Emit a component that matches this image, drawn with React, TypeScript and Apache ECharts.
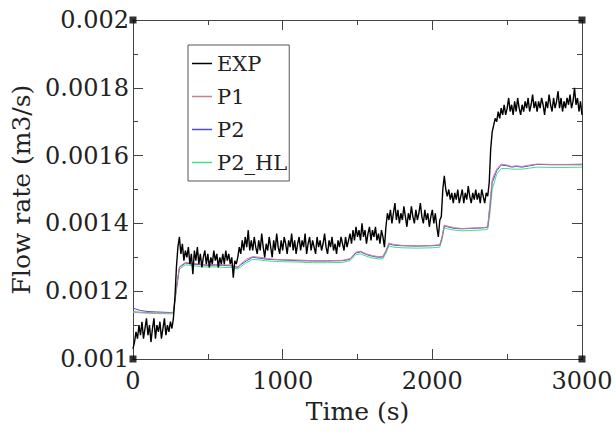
import React, { useEffect, useRef } from "react";
import * as echarts from "echarts";

// Experimental flow rate, sampled every 10 s from 0 to 3000 s
const expStep = 10;
const expValues = [
  0.00103, 0.00105, 0.00108, 0.00106, 0.00110, 0.00107, 0.00111, 0.00106, 0.00109, 0.00112,
  0.00107, 0.00110, 0.00105, 0.00109, 0.00112, 0.00106, 0.00110, 0.00108, 0.00111, 0.00106,
  0.00109, 0.00112, 0.00107, 0.00110, 0.00108, 0.00111, 0.00109, 0.00112, 0.00118, 0.00127,
  0.00133, 0.00136, 0.00131, 0.00134, 0.00129, 0.00132, 0.00130, 0.00133, 0.00128, 0.00131,
  0.00125, 0.00132, 0.00129, 0.00133, 0.00128, 0.00131, 0.00127, 0.00130, 0.00132, 0.00128,
  0.00131, 0.00127, 0.00130, 0.00128, 0.00132, 0.00129, 0.00131, 0.00127, 0.00130, 0.00128,
  0.00131, 0.00128, 0.00132, 0.00129, 0.00131, 0.00128, 0.00130, 0.00124, 0.00129, 0.00128,
  0.00130, 0.00133, 0.00131, 0.00135, 0.00132, 0.00136, 0.00133, 0.00138, 0.00132, 0.00135,
  0.00132, 0.00136, 0.00133, 0.00131, 0.00135, 0.00132, 0.00137, 0.00133, 0.00130, 0.00134,
  0.00132, 0.00136, 0.00133, 0.00130, 0.00135, 0.00132, 0.00137, 0.00133, 0.00131, 0.00135,
  0.00132, 0.00136, 0.00134, 0.00131, 0.00135, 0.00133, 0.00137, 0.00132, 0.00135, 0.00131,
  0.00134, 0.00136, 0.00132, 0.00135, 0.00133, 0.00137, 0.00131, 0.00134, 0.00136, 0.00132,
  0.00135, 0.00133, 0.00131, 0.00136, 0.00133, 0.00135, 0.00132, 0.00134, 0.00137, 0.00133,
  0.00131, 0.00135, 0.00133, 0.00136, 0.00132, 0.00134, 0.00131, 0.00135, 0.00133, 0.00136,
  0.00134, 0.00132, 0.00136, 0.00133, 0.00135, 0.00137, 0.00134, 0.00138, 0.00135, 0.00139,
  0.00136, 0.00138, 0.00135, 0.00140, 0.00136, 0.00138, 0.00134, 0.00137, 0.00139, 0.00135,
  0.00138, 0.00136, 0.00139, 0.00135, 0.00137, 0.00134, 0.00138, 0.00136, 0.00133, 0.00139,
  0.00143, 0.00141, 0.00144, 0.00140, 0.00143, 0.00146, 0.00141, 0.00144, 0.00140, 0.00143,
  0.00141, 0.00145, 0.00142, 0.00139, 0.00143, 0.00141, 0.00145, 0.00142, 0.00140, 0.00144,
  0.00141, 0.00143, 0.00146, 0.00142, 0.00140, 0.00144, 0.00141, 0.00143, 0.00139, 0.00142,
  0.00144, 0.00140, 0.00143, 0.00139, 0.00136, 0.00141, 0.00142, 0.00150, 0.00154, 0.00150,
  0.00148, 0.00150, 0.00147, 0.00149, 0.00146, 0.00149, 0.00147, 0.00150, 0.00146, 0.00148,
  0.00150, 0.00146, 0.00149, 0.00147, 0.00151, 0.00148, 0.00146, 0.00149, 0.00147, 0.00150,
  0.00147, 0.00149, 0.00146, 0.00150, 0.00148, 0.00146, 0.00149, 0.00148, 0.00152, 0.00162,
  0.00167, 0.00169, 0.00171, 0.00170, 0.00173, 0.00171, 0.00174, 0.00172, 0.00175, 0.00172,
  0.00174, 0.00177, 0.00173, 0.00175, 0.00172, 0.00176, 0.00173, 0.00177, 0.00174, 0.00172,
  0.00175, 0.00173, 0.00176, 0.00174, 0.00177, 0.00173, 0.00175, 0.00178, 0.00174, 0.00176,
  0.00173, 0.00176, 0.00174, 0.00177, 0.00175, 0.00172, 0.00176, 0.00174, 0.00178, 0.00175,
  0.00173, 0.00177, 0.00174, 0.00176, 0.00179, 0.00174, 0.00177, 0.00173, 0.00176, 0.00174,
  0.00177, 0.00175, 0.00178, 0.00174, 0.00176, 0.00180, 0.00175, 0.00177, 0.00173, 0.00176,
  0.00172,
];

// Model time points (s)
const modelTimes = [
  0, 50, 100, 150, 200, 250, 270, 290, 310, 350, 400, 450, 500, 550, 600, 650, 700, 720, 760,
  800, 850, 900, 950, 1000, 1100, 1200, 1300, 1400, 1450, 1490, 1520, 1560, 1600, 1640, 1670,
  1690, 1710, 1740, 1800, 1900, 2000, 2050, 2065, 2080, 2100, 2150, 2200, 2250, 2300, 2350,
  2370, 2385, 2400, 2430, 2460, 2500, 2530, 2560, 2600, 2650, 2700, 2800, 2900, 3000,
];

const p1Values = [
  0.001140, 0.001138, 0.001137, 0.001136, 0.001136, 0.001136, 0.001138, 0.00121, 0.001272,
  0.001285, 0.001282, 0.00128, 0.001278, 0.001279, 0.001278, 0.001277, 0.001272, 0.00128,
  0.001295, 0.001302, 0.0013, 0.001296, 0.001294, 0.001293, 0.001292, 0.00129, 0.00129,
  0.001291, 0.001296, 0.001315, 0.001318, 0.00131, 0.001305, 0.001302, 0.001303, 0.00132,
  0.001342, 0.001338, 0.001335, 0.001334, 0.001335, 0.001337, 0.00136, 0.001395, 0.001392,
  0.001387, 0.001385, 0.001386, 0.001387, 0.001388, 0.00139, 0.00146, 0.00153, 0.00156,
  0.001575, 0.001572, 0.001568, 0.00157, 0.001568, 0.001572, 0.001575, 0.001574, 0.001574,
  0.001575,
];

const p2Values = [
  0.001150, 0.001143, 0.001140, 0.001139, 0.001138, 0.001137, 0.001138, 0.00121, 0.00127,
  0.001283, 0.00128, 0.001278, 0.001276, 0.001277, 0.001276, 0.001275, 0.00127, 0.001278,
  0.00129, 0.0013, 0.001297, 0.001294, 0.001293, 0.001292, 0.00129, 0.001289, 0.001289,
  0.00129, 0.001294, 0.001313, 0.001316, 0.001308, 0.001303, 0.0013, 0.001301, 0.001318,
  0.00134, 0.001336, 0.001334, 0.001333, 0.001334, 0.001336, 0.001358, 0.001393, 0.00139,
  0.001385, 0.001384, 0.001385, 0.001386, 0.001387, 0.001389, 0.00145, 0.00152, 0.001555,
  0.001572, 0.00157, 0.001566, 0.001568, 0.001566, 0.00157, 0.001574, 0.001573, 0.001573,
  0.001573,
];

const p2hlValues = [
  0.001138, 0.001136, 0.001135, 0.001134, 0.001134, 0.001133, 0.001134, 0.0012, 0.001265,
  0.001278, 0.001275, 0.001273, 0.001271, 0.001272, 0.00127, 0.00127, 0.001266, 0.001272,
  0.001285, 0.001294, 0.001292, 0.001289, 0.001288, 0.001287, 0.001286, 0.001284, 0.001284,
  0.001285, 0.00129, 0.001308, 0.00131, 0.001303, 0.001298, 0.001295, 0.001296, 0.001312,
  0.001334, 0.00133, 0.001328, 0.001327, 0.001328, 0.00133, 0.001352, 0.001387, 0.001384,
  0.00138, 0.001378, 0.001379, 0.00138, 0.001381, 0.001383, 0.00143, 0.0015, 0.001545,
  0.001562, 0.001562, 0.00156, 0.00156, 0.00156, 0.001563, 0.001566, 0.001565, 0.001565,
  0.001566,
];

const cornerPoints = [
  [0, 0.001],
  [3000, 0.001],
  [0, 0.002],
  [3000, 0.002],
];

const seriesNames = ["EXP", "P1", "P2", "P2_HL"];
const seriesColors = ["#000000", "#c97f88", "#4a4ae8", "#44dd88"];

const FONT = "DejaVu Serif";
const TEXT = "#222222";
const AXIS = "#444444";

export default function App() {
  const ref = useRef<HTMLDivElement>(null);

  useEffect(() => {
    if (!ref.current) return;
    const chart = echarts.init(ref.current, undefined, { renderer: "svg" });

    const expData = expValues.map((v, i) => [i * expStep, v]);
    const mk = (vals: number[]) => modelTimes.map((t, i) => [t, vals[i]]);

    const yFmt = (v: number) => String(parseFloat(v.toFixed(5)));
    const xFmt = (v: number) => String(Math.round(v));

    const baseX = {
      type: "value",
      min: 0,
      max: 3000,
      interval: 1000,
      splitLine: { show: false },
      axisLine: { show: true, onZero: false, lineStyle: { color: AXIS, width: 1 } },
      axisTick: { show: true, inside: true, length: 10, lineStyle: { color: AXIS } },
      minorTick: { show: true, splitNumber: 2, length: 5, lineStyle: { color: AXIS } },
      minorSplitLine: { show: false },
    };
    const baseY = {
      type: "value",
      min: 0.001,
      max: 0.002,
      interval: 0.0002,
      splitLine: { show: false },
      axisLine: { show: true, onZero: false, lineStyle: { color: AXIS, width: 1 } },
      axisTick: { show: true, inside: true, length: 10, lineStyle: { color: AXIS } },
      minorTick: { show: true, splitNumber: 2, length: 5, lineStyle: { color: AXIS } },
      minorSplitLine: { show: false },
    };

    chart.setOption({
      animation: false,
      backgroundColor: "#ffffff",
      textStyle: { fontFamily: FONT },
      grid: { left: 133, top: 20, right: 34, bottom: 77, containLabel: false },
      legend: {
        data: seriesNames.map((n, i) => ({ name: n, itemStyle: { color: seriesColors[i] } })),
        orient: "vertical",
        left: 188,
        top: 45,
        icon: "rect",
        itemWidth: 20,
        itemHeight: 1.5,
        itemGap: 12,
        padding: [8, 2, 8, 4],
        borderColor: "#555555",
        borderWidth: 1,
        textStyle: { fontFamily: FONT, fontSize: 21, color: TEXT, padding: [0, 0, 0, 0] },
      },
      xAxis: [
        {
          ...baseX,
          position: "bottom",
          name: "Time (s)",
          nameLocation: "middle",
          nameGap: 40,
          nameTextStyle: { fontFamily: FONT, fontSize: 25, color: TEXT },
          axisLabel: {
            show: true,
            fontFamily: FONT,
            fontSize: 24,
            color: TEXT,
            margin: 10,
            formatter: xFmt,
          },
        },
        { ...baseX, position: "top", axisLabel: { show: false } },
      ],
      yAxis: [
        {
          ...baseY,
          position: "left",
          name: "Flow rate (m3/s)",
          nameLocation: "middle",
          nameGap: 98,
          nameTextStyle: { fontFamily: FONT, fontSize: 25, color: TEXT },
          axisLabel: {
            show: true,
            fontFamily: FONT,
            fontSize: 24,
            color: TEXT,
            margin: 4,
            formatter: yFmt,
          },
        },
        { ...baseY, position: "right", axisLabel: { show: false } },
      ],
      series: [
        {
          name: "P2_HL",
          type: "line",
          data: mk(p2hlValues),
          showSymbol: false,
          symbol: "none",
          lineStyle: { width: 1, color: seriesColors[3] },
          itemStyle: { color: seriesColors[3] },
        },
        {
          name: "P2",
          type: "line",
          data: mk(p2Values),
          showSymbol: false,
          symbol: "none",
          lineStyle: { width: 1, color: seriesColors[2] },
          itemStyle: { color: seriesColors[2] },
        },
        {
          name: "P1",
          type: "line",
          data: mk(p1Values),
          showSymbol: false,
          symbol: "none",
          lineStyle: { width: 1, color: seriesColors[1] },
          itemStyle: { color: seriesColors[1] },
        },
        {
          name: "EXP",
          type: "line",
          data: expData,
          showSymbol: false,
          symbol: "none",
          lineStyle: { width: 1.4, color: seriesColors[0] },
          itemStyle: { color: seriesColors[0] },
        },
        {
          name: "corners",
          type: "scatter",
          data: cornerPoints,
          symbol: "rect",
          symbolSize: 7,
          clip: false,
          itemStyle: { color: "#000000" },
          z: 10,
        },
      ],
    });

    return () => chart.dispose();
  }, []);

  return (
    <div
      ref={ref}
      style={{ position: "fixed", left: 0, top: 0, width: 616, height: 436 }}
    />
  );
}
